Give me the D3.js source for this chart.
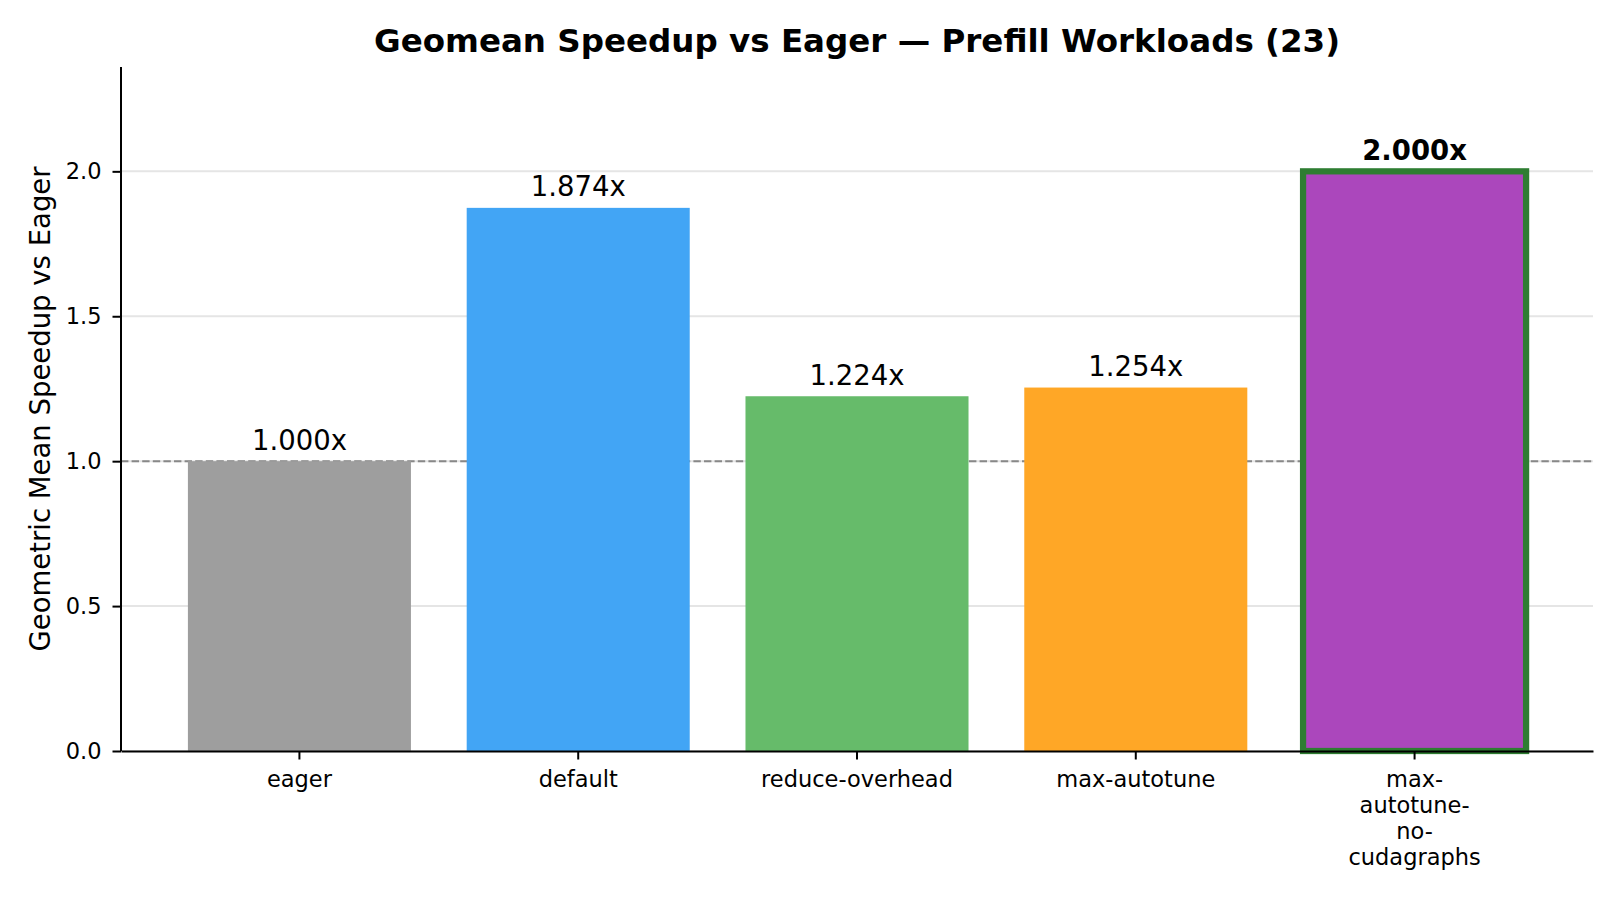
<!DOCTYPE html>
<html>
<head>
<meta charset="utf-8">
<script src="https://cdn.jsdelivr.net/npm/d3@7"></script>
<style>
  body { margin: 0; background: white; }
  text { font-family: "DejaVu Sans", sans-serif; }
</style>
</head>
<body>
<div id="chart"></div>
<script>

var modes = ['eager', 'default', 'reduce-overhead', 'max-autotune', 'max-autotune-no-cudagraphs'];
var tickLabels = ['eager', 'default', 'reduce-overhead', 'max-autotune', 'max-\nautotune-\nno-\ncudagraphs'];
var speedups = [1.000, 1.874, 1.224, 1.254, 2.000];
var barColors = ['#9e9e9e', '#42a5f5', '#66bb6a', '#ffa726', '#ab47bc'];
var yTicks = [0, 0.5, 1.0, 1.5, 2.0];
var baseline = 1.0;
var chartTitle = 'Geomean Speedup vs Eager \u2014 Prefill Workloads (23)';
var yTitle = 'Geometric Mean Speedup vs Eager';

function paintSpeedupGraph(g) {
  g.fullWidth = 1620;
  g.fullHeight = 900;
  g.margin = {top: 67, right: 27, bottom: 149, left: 121};
  g.width = g.fullWidth - g.margin.left - g.margin.right;
  g.height = g.fullHeight - g.margin.top - g.margin.bottom;

  // Set the ranges
  g.x = d3.scaleBand().domain(modes).range([0, g.width])
    .paddingInner(0.2).paddingOuter(0.24);
  g.y = d3.scaleLinear().domain([0, 2.36]).range([g.height, 0]);

  g.xAxis = d3.axisBottom().scale(g.x).tickSize(8.5).tickSizeOuter(0).tickPadding(11.2)
    .tickFormat(function(d, i) { return tickLabels[i]; });
  g.yAxis = d3.axisLeft().scale(g.y).tickValues(yTicks).tickSize(8.5).tickSizeOuter(0).tickPadding(11)
    .tickFormat(d3.format('.1f'));

  var svg = d3.select('#' + g.id)
    .append('svg')
      .attr('width', g.fullWidth)
      .attr('height', g.fullHeight)
      .style('background', 'white');

  svg.append('text')
    .attr('x', g.margin.left + g.width / 2)
    .attr('y', 52)
    .attr('text-anchor', 'middle')
    .style('font-size', '32.5px')
    .style('font-weight', 'bold')
    .text(chartTitle);

  svg.append('text')
    .attr('transform', 'translate(50,' + (g.margin.top + g.height / 2) + ') rotate(-90)')
    .attr('text-anchor', 'middle')
    .style('font-size', '27.5px')
    .text(yTitle);

  g.svg = svg.append('g')
    .attr('transform', 'translate(' + g.margin.left + ',' + g.margin.top + ')');

  // grid lines behind everything
  g.svg.append('g')
    .selectAll('line').data(yTicks)
    .enter().append('line')
      .attr('x1', 0)
      .attr('x2', g.width)
      .attr('y1', function(d) { return g.y(d); })
      .attr('y2', function(d) { return g.y(d); })
      .attr('stroke', '#e5e5e5')
      .attr('stroke-width', 2);

  // eager reference line
  g.svg.append('line')
    .attr('x1', 0)
    .attr('x2', g.width)
    .attr('y1', g.y(baseline))
    .attr('y2', g.y(baseline))
    .attr('stroke', '#888')
    .attr('stroke-width', 2)
    .style('stroke-dasharray', ('7.4, 3.2'));

  var best = d3.max(speedups);

  g.svg.selectAll('.bar').data(modes)
    .enter().append('rect')
      .attr('class', 'bar')
      .attr('x', function(d) { return g.x(d); })
      .attr('width', g.x.bandwidth())
      .attr('y', function(d, i) { return g.y(speedups[i]); })
      .attr('height', function(d, i) { return g.height - g.y(speedups[i]); })
      .attr('fill', function(d, i) { return barColors[i]; })
      .attr('stroke', function(d, i) { return speedups[i] === best ? '#2e7d32' : 'none'; })
      .attr('stroke-width', 6.25);

  g.svg.selectAll('.val').data(modes)
    .enter().append('text')
      .attr('class', 'val')
      .attr('x', function(d) { return g.x(d) + g.x.bandwidth() / 2; })
      .attr('y', function(d, i) { return g.y(speedups[i]) - 11.5; })
      .attr('text-anchor', 'middle')
      .style('font-size', '27.5px')
      .style('font-weight', function(d, i) { return speedups[i] === best ? 'bold' : 'normal'; })
      .text(function(d, i) { return speedups[i].toFixed(3) + 'x'; });

  // Add the X Axis
  var xg = g.svg.append('g')
    .attr('class', 'x axis')
    .attr('transform', 'translate(0,' + g.height + ')')
    .call(g.xAxis);

  // split the wrapped labels into lines
  xg.selectAll('.tick text').each(function() {
    var t = d3.select(this);
    var lines = t.text().split('\n');
    t.text(null);
    lines.forEach(function(l, k) {
      t.append('tspan').attr('x', 0).attr('dy', k === 0 ? '0.71em' : '26.2px').text(l);
    });
  }).attr('dy', null);

  // Add the Y Axis
  var yg = g.svg.append('g')
    .attr('class', 'y axis')
    .call(g.yAxis);

  xg.selectAll('text').style('font-size', '22.5px').attr('fill', 'black');
  yg.selectAll('text').style('font-size', '22.5px').attr('fill', 'black');
  [xg, yg].forEach(function(a) {
    a.select('.domain').attr('stroke', 'black').attr('stroke-width', 2);
    a.selectAll('.tick line').attr('stroke', 'black').attr('stroke-width', 2);
  });
  yg.select('.domain').attr('d', 'M0,' + g.height + 'V0');
}

var speedupGraph = {id: 'chart'};
paintSpeedupGraph(speedupGraph);

</script>
</body>
</html>
